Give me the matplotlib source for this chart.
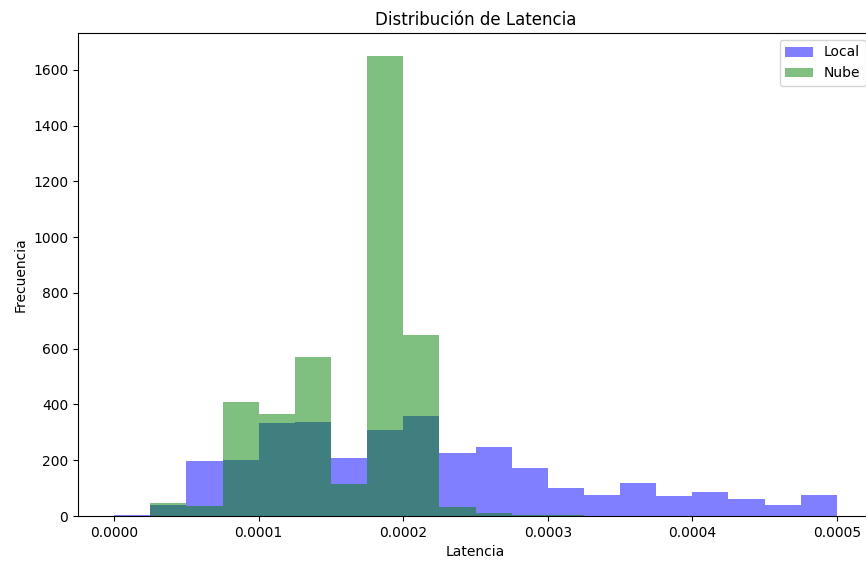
import numpy as np
import matplotlib
matplotlib.use("Agg")
import matplotlib.pyplot as plt

bin_edges = np.linspace(0, 0.0005, 21)
local_counts = [4, 40, 196, 201, 334, 336, 208, 310, 359, 225,
                247, 171, 100, 74, 118, 71, 85, 61, 39, 74]
nube_counts = [0, 48, 37, 408, 367, 570, 115, 1650, 650, 32,
               10, 4, 2, 1, 1, 0, 0, 0, 0, 0]
xticks = [0.0, 0.0001, 0.0002, 0.0003, 0.0004, 0.0005]

W, H = 866, 563
fig = plt.figure(figsize=(W / 100, H / 100), dpi=100)
ax = fig.add_axes([78 / W, (H - 516) / H, (873 - 78) / W, (516 - 33) / H])

centers = (bin_edges[:-1] + bin_edges[1:]) / 2
ax.hist(centers, bins=bin_edges, weights=local_counts, color='blue', alpha=0.5, label='Local')
ax.hist(centers, bins=bin_edges, weights=nube_counts, color='green', alpha=0.5, label='Nube')

ax.set_xticks(xticks)
ax.set_xticklabels([f"{v:.4f}" for v in xticks])
ax.set_title('Distribución de Latencia')
ax.set_xlabel('Latencia')
ax.set_ylabel('Frecuencia')
ax.legend(loc='upper right')

fig.savefig('out.png', dpi=100)
